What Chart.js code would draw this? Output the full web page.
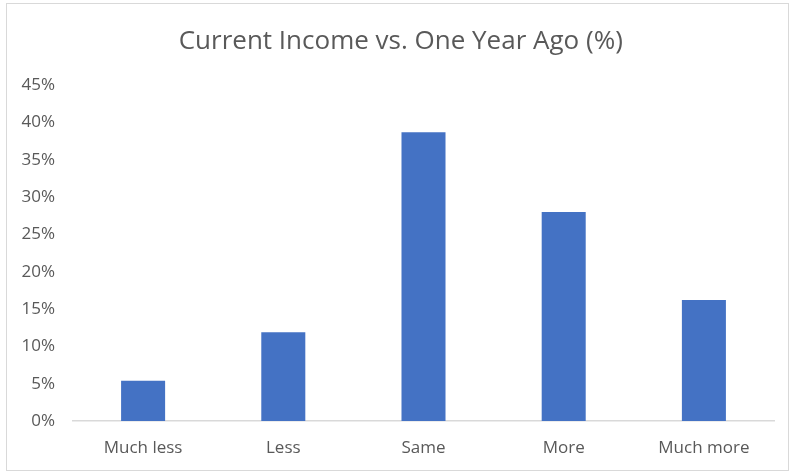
<!DOCTYPE html>
<html>
<head>
<meta charset="utf-8">
<script src="https://cdn.jsdelivr.net/npm/chart.js@4"></script>
<style>
  body { margin: 0; background: #fff; }
  #wrap {
    position: absolute; left: 6px; top: 3px;
    width: 781px; height: 466px;
    border: 1px solid #d9d9d9;
  }
</style>
</head>
<body>
<div id="wrap"><canvas id="chartIncome"></canvas></div>
<script>
  // data
  var categories = ["Much less", "Less", "Same", "More", "Much more"];
  var shares = [5.4, 11.9, 38.7, 28.0, 16.2];
  var yTicks = [0, 5, 10, 15, 20, 25, 30, 35, 40, 45];

  Chart.defaults.font.family = '"Open Sans", sans-serif';
  Chart.defaults.color = '#595959';

  var dataIncome = {
    labels: categories,
    datasets: [
      {
        label: "Share",
        data: shares,
        backgroundColor: "#4472c4",
        borderWidth: 0,
        categoryPercentage: 1,
        barPercentage: 0.314,
      },
    ]
  };

  var optionsIncome = {
    responsive: true,
    maintainAspectRatio: false,
    animation: false,
    layout: { padding: 0 },
    scales: {
      y: {
        min: 0,
        max: 45,
        afterBuildTicks: function (scale) {
          scale.ticks = yTicks.map(function (v) { return { value: v }; });
        },
        afterFit: function (scale) { scale.width = 66; },
        grid: { display: false, drawTicks: false },
        border: { display: false },
        ticks: {
          padding: 18,
          font: { size: 17 },
          callback: function (v) { return v + '%'; }
        }
      },
      // empty right axis, only keeps the right margin
      yRight: {
        position: 'right',
        min: 0,
        max: 45,
        afterFit: function (scale) { scale.width = 14; },
        grid: { display: false, drawTicks: false },
        border: { display: false },
        ticks: { display: false }
      },
      x: {
        afterFit: function (scale) { scale.height = 49; },
        grid: { display: false, drawTicks: false },
        border: { display: true, color: '#d9d9d9', width: 1.5 },
        ticks: { padding: 17, font: { size: 17 } }
      }
    },
    plugins: {
      legend: { display: false },
      tooltip: { enabled: false },
      title: {
        display: true,
        text: '\u2005Current Income vs. One Year Ago (%)',
        color: '#595959',
        font: { size: 26, weight: 'normal' },
        padding: { top: 22, bottom: 28 }
      }
    }
  };

  new Chart('chartIncome', {
    type: 'bar',
    options: optionsIncome,
    data: dataIncome
  });
</script>
</body>
</html>
